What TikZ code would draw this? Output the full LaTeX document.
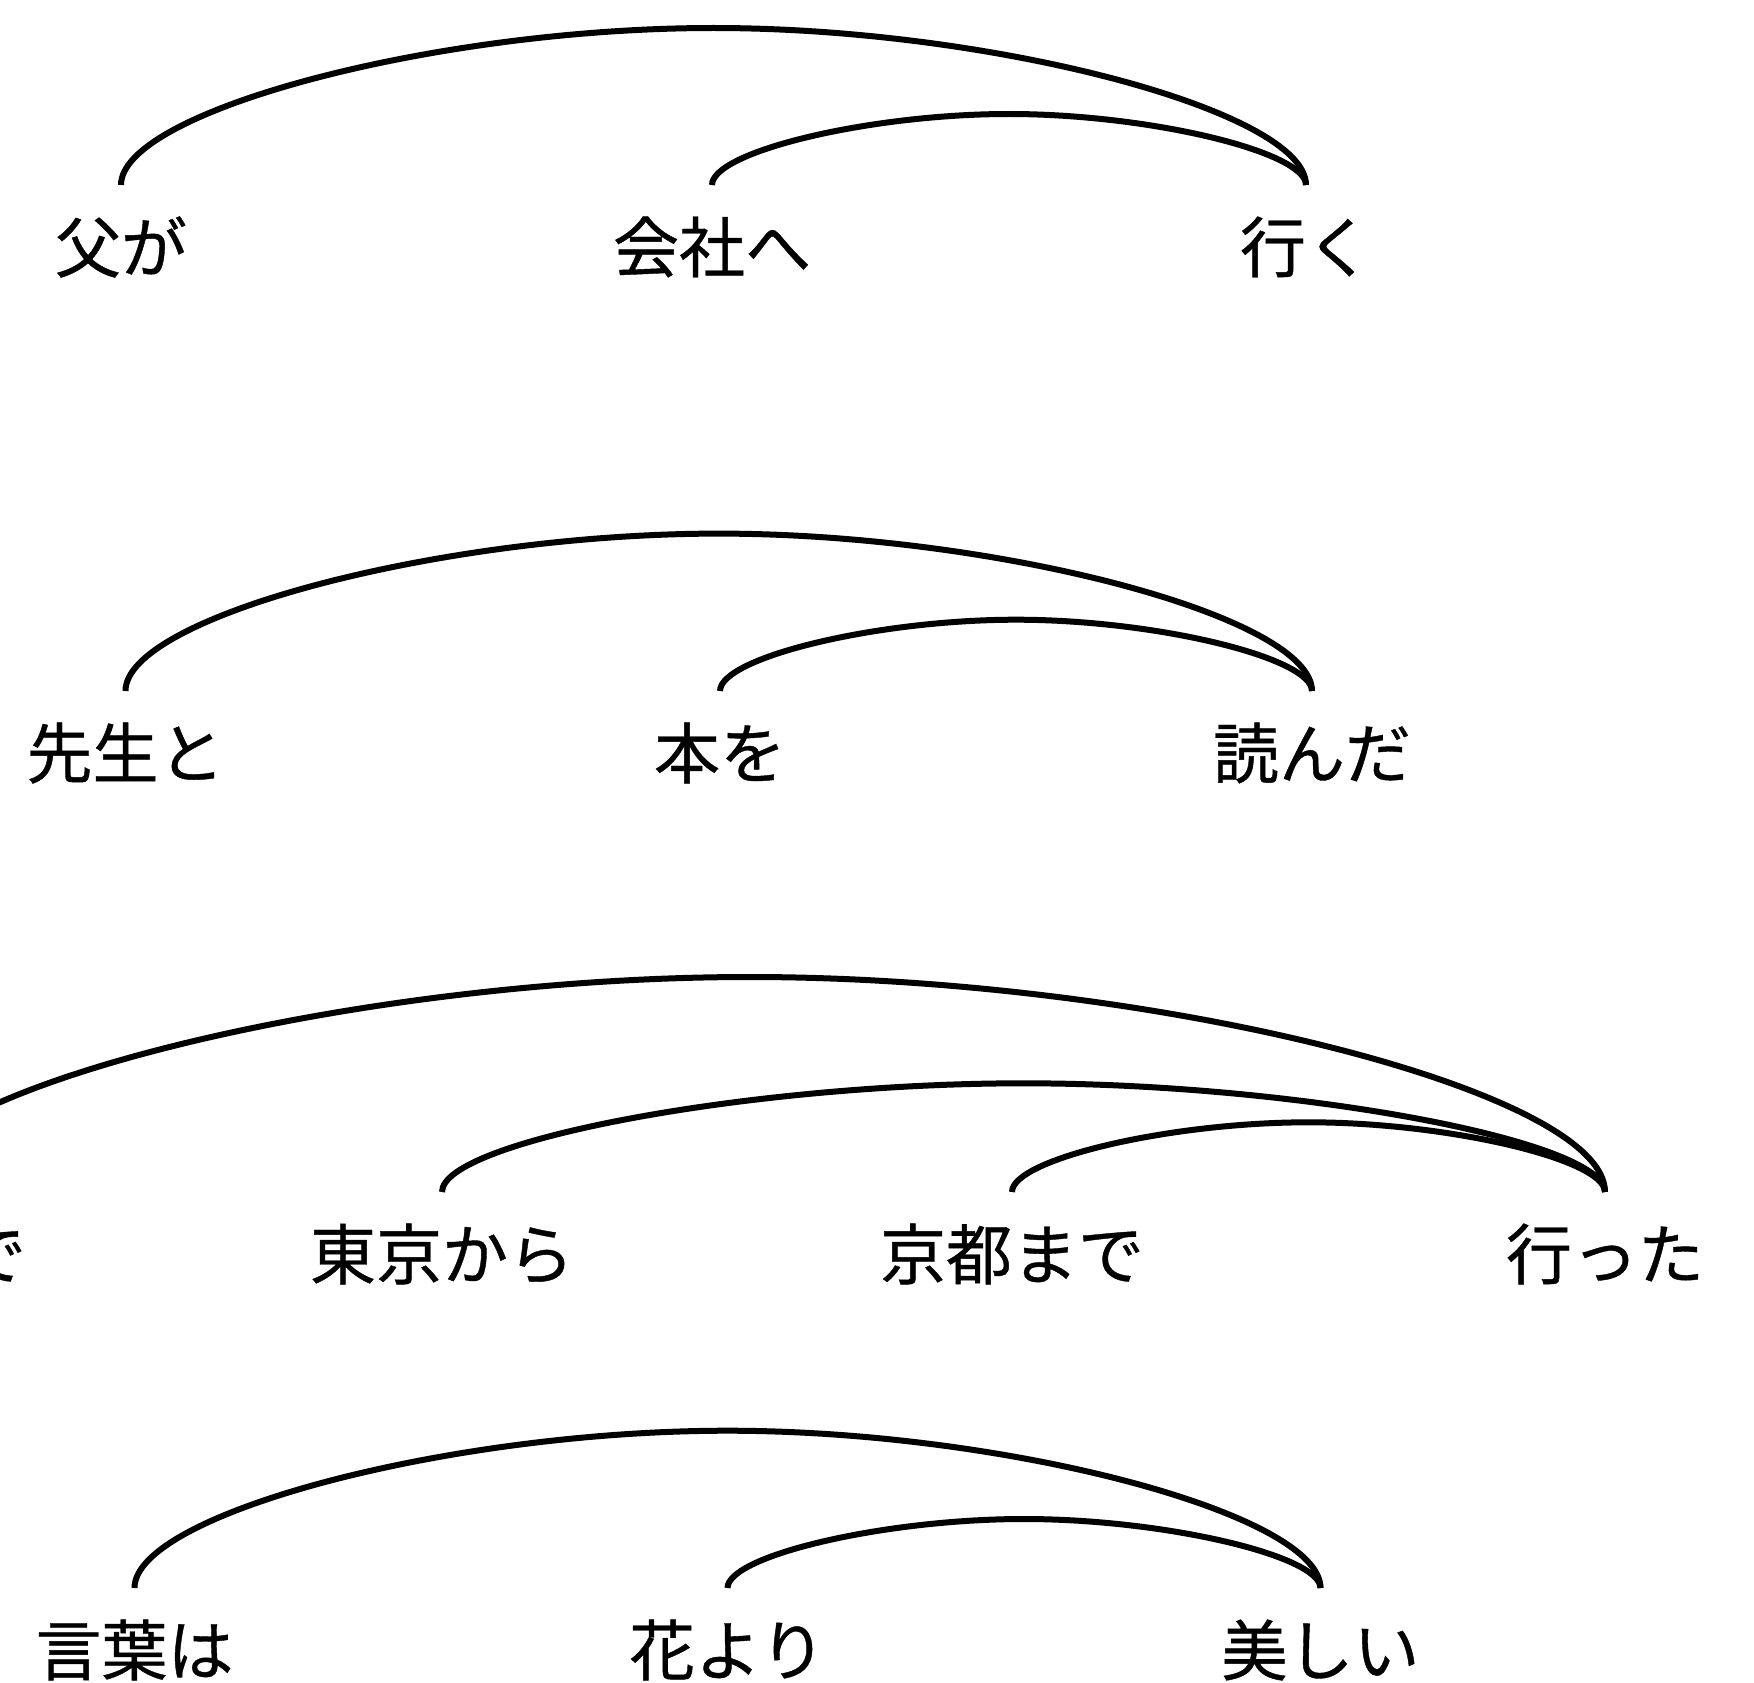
\documentclass[tikz,border=0pt]{standalone}
\usepackage{fontspec}
\newfontfamily\jpfont[FakeBold=0.6]{Noto Sans CJK JP}
\usetikzlibrary{calc}
\tikzset{
  word/.style={inner sep=0pt, font=\jpfont\fontsize{66}{70}\selectfont, text=black},
  arcline/.style={draw=black, line width=6pt, line cap=butt}
}
% #1 from node, #2 to node, #3 arc height above the word tops
\newcommand\deparc[3]{%
  \draw[arcline] let \p1=(#1), \p2=(#2),
     \n1={0.47*(\x2-\x1)/2}, \n2={0.47*#3}, \n3={(\x1+\x2)/2} in
   (\x1,{\y1+62}) .. controls (\x1,{\y1+62+\n2}) and ({\n3-\n1},{\y1+62+#3}) ..
   ({\n3},{\y1+62+#3}) .. controls ({\n3+\n1},{\y1+62+#3}) and (\x2,{\y2+62+\n2}) ..
   (\x2,{\y2+62});}
\begin{document}
\begin{tikzpicture}[x=1pt,y=-1pt]
\useasboundingbox (0,0) rectangle (1754,1683);
\clip (0,0) rectangle (1754,1683);
% row 1
\node[word] (a1) at (121,247) {父が};
\node[word] (a2) at (712,247) {会社へ};
\node[word] (a3) at (1306,247) {行く};
\deparc{a1}{a3}{157}
\deparc{a2}{a3}{71}
% row 2
\node[word] (b1) at (125.5,753) {先生と};
\node[word] (b2) at (720,753) {本を};
\node[word] (b3) at (1312,753) {読んだ};
\deparc{b1}{b3}{157.4}
\deparc{b2}{b3}{71.3}
% row 3
\node[word] (c0) at (-106,1254) {新幹線で};
\node[word] (c1) at (442,1254) {東京から};
\node[word] (c2) at (1012,1254) {京都まで};
\node[word] (c3) at (1605,1254) {行った};
\deparc{c0}{c3}{215}
\deparc{c1}{c3}{108.7}
\deparc{c2}{c3}{69.7}
% row 4
\node[word] (d1) at (134.5,1650) {言葉は};
\node[word] (d2) at (727.5,1650) {花より};
\node[word] (d3) at (1320.5,1650) {美しい};
\deparc{d1}{d3}{157.3}
\deparc{d2}{d3}{69}
\end{tikzpicture}
\end{document}
